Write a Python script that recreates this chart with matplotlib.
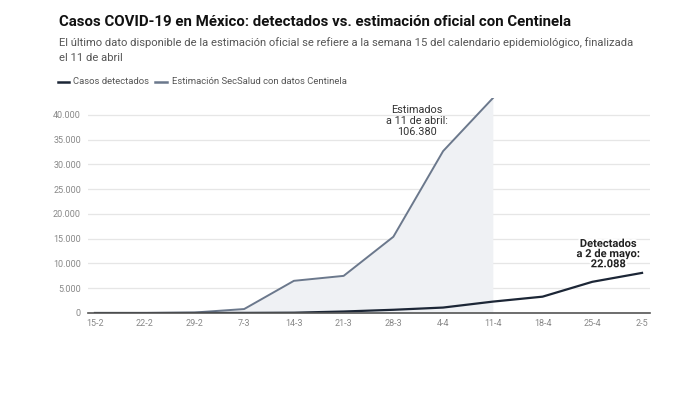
import matplotlib.pyplot as plt
from matplotlib.ticker import FuncFormatter
import matplotlib.patheffects as pe

plt.rcParams['font.family'] = ['Roboto', 'DejaVu Sans']

weeks = ['15-2', '22-2', '29-2', '7-3', '14-3', '21-3', '28-3', '4-4', '11-4',
         '18-4', '25-4', '2-5']
detectados = [0, 0, 10, 20, 60, 300, 650, 1100, 2300, 3300, 6300, 8100]
estimacion = [0, 0, 100, 800, 6500, 7500, 15400, 32700, 43400]
yticks = [0, 5000, 10000, 15000, 20000, 25000, 30000, 35000, 40000]

c_det = '#1c2636'
c_est = '#6b788c'

fig = plt.figure(figsize=(7, 4), dpi=100)
ax = fig.add_axes([88 / 700, (400 - 313) / 400, (650 - 88) / 700, (313 - 98) / 400])

x = list(range(len(weeks)))
xe = x[:len(estimacion)]
ax.fill_between(xe, estimacion, 0, color='#eff1f4', lw=0, zorder=1)
ax.plot(xe, estimacion, color=c_est, lw=1.4, zorder=3)
ax.plot(x, detectados, color=c_det, lw=1.6, zorder=4)

ax.set_xlim(-0.14, 11.16)
ax.set_ylim(0, 43430)
ax.set_yticks(yticks)
ax.yaxis.set_major_formatter(FuncFormatter(lambda v, p: f'{int(v):,}'.replace(',', '.')))
ax.set_xticks(x)
ax.set_xticklabels(weeks)
ax.grid(axis='y', color='#e6e6e6', lw=0.9, zorder=0)
ax.set_axisbelow(True)
for s in ['top', 'right', 'left']:
    ax.spines[s].set_visible(False)
ax.spines['bottom'].set_color('#555555')
ax.spines['bottom'].set_linewidth(1.2)
ax.spines['bottom'].set_zorder(5)
ax.tick_params(axis='both', length=0, labelsize=6.5, labelcolor='#888888')
ax.tick_params(axis='y', pad=5)
ax.tick_params(axis='x', pad=4)

ax.text(6.48, 38800, 'Estimados\na 11 de abril:\n106.380', ha='center', va='center',
        fontsize=7.8, color='#333333', linespacing=1.12, zorder=6)
ax.text(10.32, 11900, 'Detectados\na 2 de mayo:\n22.088', ha='center', va='center',
        fontsize=8, color='#222222', fontweight='bold', linespacing=1.02, zorder=6,
        path_effects=[pe.withStroke(linewidth=3, foreground='white')])

fig.text(59 / 700, 1 - 22 / 400, 'Casos COVID-19 en México: detectados vs. estimación oficial con Centinela',
         fontsize=10.8, fontweight='bold', color='#111111', va='center')
fig.text(59 / 700, 1 - 50 / 400,
         'El último dato disponible de la estimación oficial se refiere a la semana 15 del calendario epidemiológico, finalizada\nel 11 de abril',
         fontsize=8.15, color='#555555', va='center', linespacing=1.55)

# legend
fig.lines.append(plt.Line2D([58 / 700, 69 / 700], [1 - 82 / 400] * 2, color=c_det, lw=1.8,
                            transform=fig.transFigure))
fig.text(73 / 700, 1 - 82 / 400, 'Casos detectados', fontsize=6.8, color='#555555', va='center')
fig.lines.append(plt.Line2D([155 / 700, 167 / 700], [1 - 82 / 400] * 2, color=c_est, lw=1.8,
                            transform=fig.transFigure))
fig.text(172 / 700, 1 - 82 / 400, 'Estimación SecSalud con datos Centinela', fontsize=6.8,
         color='#555555', va='center')

fig.savefig('out.png', dpi=100)
